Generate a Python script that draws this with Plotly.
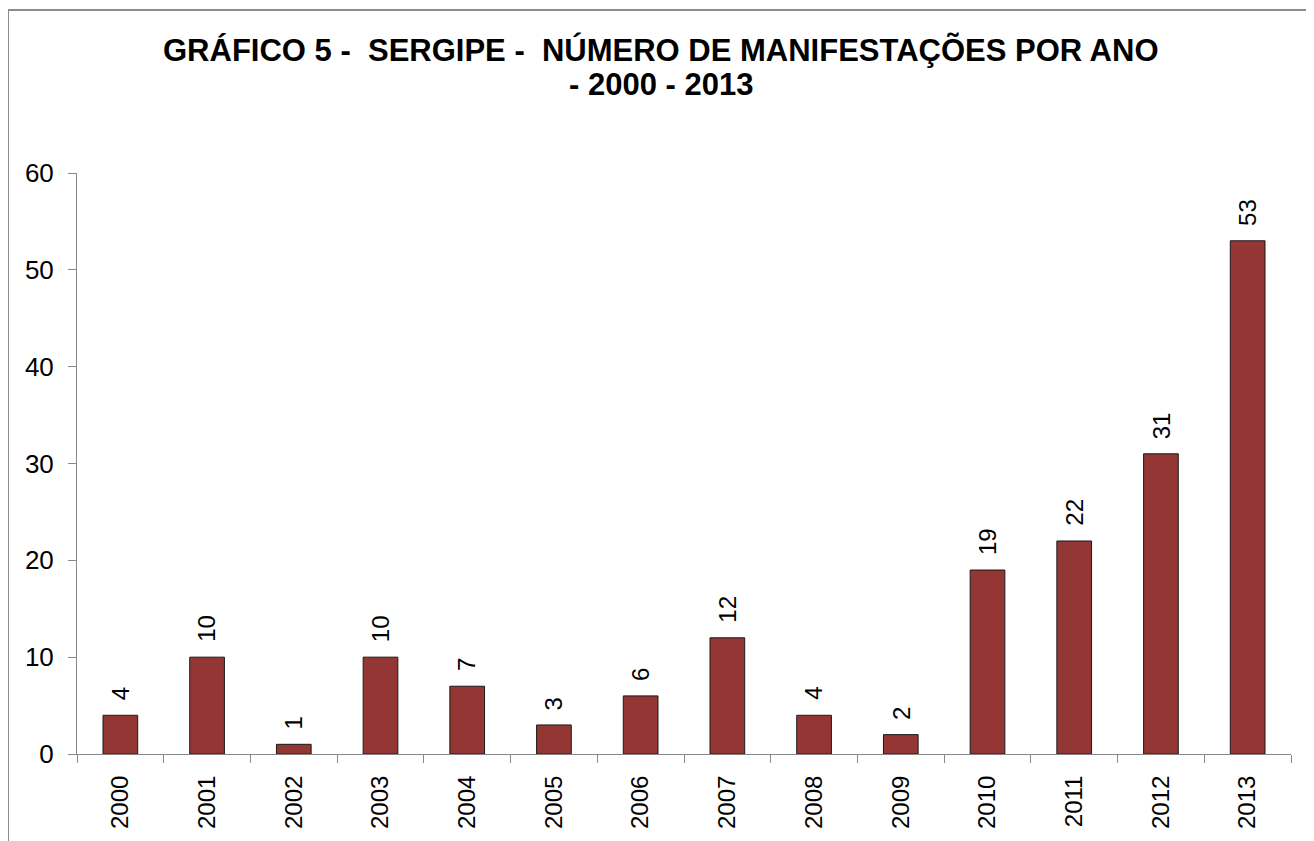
import plotly.graph_objects as go

years = ["2000", "2001", "2002", "2003", "2004", "2005", "2006",
         "2007", "2008", "2009", "2010", "2011", "2012", "2013"]
values = [4, 10, 1, 10, 7, 3, 6, 12, 4, 2, 19, 22, 31, 53]
y_ticks = [0, 10, 20, 30, 40, 50, 60]
title_line1 = "GRÁFICO 5 -\u00a0\u00a0SERGIPE -\u00a0\u00a0NÚMERO DE MANIFESTAÇÕES POR ANO"
title_line2 = "- 2000 - 2013"

FONT = "Liberation Sans, Arial, sans-serif"

# page has an 8px body margin; work in page pixels
OFF = 8
W, H = 1314 - OFF, 841 - OFF
X0, X1 = 77, 1291      # plot area in page px
Y0, Y1 = 173, 754
L, T = X0 - OFF, Y0 - OFF
pw, ph = X1 - X0, Y1 - Y0
R, B = W - L - pw, H - T - ph


def px_x(X):
    return (X - X0) / pw


def px_y(Y):
    return (Y1 - Y) / ph


fig = go.Figure(go.Bar(
    x=years, y=values, width=0.4,
    marker=dict(color="#943634", line=dict(color="#1a1a1a", width=1)),
    cliponaxis=False,
))

# value labels (category index on a category axis)
annotations = [
    dict(x=i, y=v, xref="x", yref="y", text=str(v), showarrow=False,
         textangle=-90, xanchor="center", yanchor="bottom", yshift=13,
         font=dict(family=FONT, size=24, color="#000"))
    for i, v in enumerate(values)
]
annotations += [
    dict(x=px_x(661), y=px_y(50), xref="paper", yref="paper", text=title_line1,
         showarrow=False, xanchor="center", yanchor="middle",
         font=dict(family=FONT, size=31, color="#000", weight="bold")),
    dict(x=px_x(661), y=px_y(84), xref="paper", yref="paper", text=title_line2,
         showarrow=False, xanchor="center", yanchor="middle",
         font=dict(family=FONT, size=31, color="#000", weight="bold")),
]

fig.update_layout(
    width=W, height=H,
    margin=dict(l=L, r=R, t=T, b=B, autoexpand=False),
    paper_bgcolor="white", plot_bgcolor="white",
    showlegend=False,
    font=dict(family=FONT, size=24, color="#000"),
    xaxis=dict(type="category", categoryorder="array", categoryarray=years,
               range=[-0.5, len(years) - 0.5],
               showgrid=False, showline=True, linecolor="#888888",
               linewidth=1, ticks="outside", tickson="boundaries", ticklen=8,
               tickcolor="#888888", tickangle=-90, ticklabelstandoff=11,
               tickfont=dict(family=FONT, size=24, color="#000")),
    yaxis=dict(range=[0, 60], tickvals=y_ticks, showgrid=False, showline=True,
               linecolor="#888888", linewidth=1, ticks="outside", ticklen=8,
               tickcolor="#888888", zeroline=False, ticklabelstandoff=9,
               tickfont=dict(family=FONT, size=26, color="#000")),
    annotations=annotations,
    shapes=[dict(type="rect", xref="paper", yref="paper",
                 x0=px_x(8), x1=px_x(1330), y0=px_y(860), y1=px_y(10),
                 line=dict(color="#8c8c8c", width=2), fillcolor="rgba(0,0,0,0)",
                 layer="below")],
)

fig.write_html("out.html")
